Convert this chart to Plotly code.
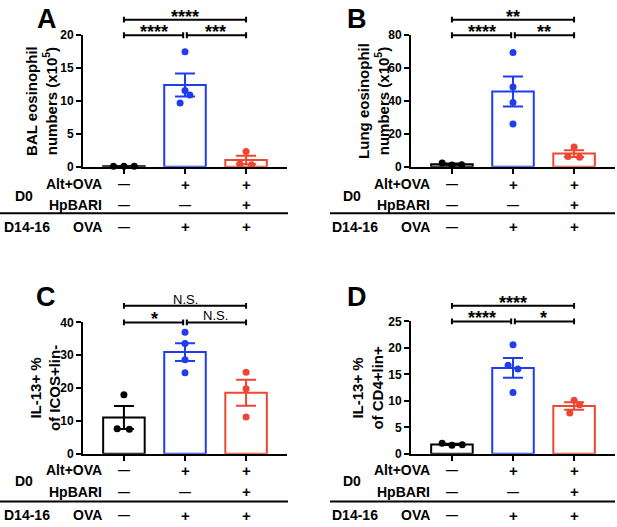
import numpy as np
import plotly.graph_objects as go

W, H = 617, 527
FONT = "Liberation Sans, Arial, sans-serif"

# group order: control, Alt+OVA, Alt+OVA+HpBARI
group_colors = ["#000000", "#1f3cf0", "#ee4631"]

# BAL eosinophils (x10^5)
bal_ctrl = [0.05, 0.05, 0.05]
bal_alt = [17.5, 11.6, 10.9, 9.7]
bal_hp = [2.3, 0.45, 0.3]

# Lung eosinophils (x10^5)
lung_ctrl = [2.2, 1.0, 1.2]
lung_alt = [69.5, 48.5, 39.0, 26.0]
lung_hp = [12.0, 6.1, 5.7]

# IL-13+ % of ICOS+lin-
icos_ctrl = [18.0, 7.6, 7.5]
icos_alt = [37.0, 33.6, 28.6, 24.7]
icos_hp = [24.8, 19.8, 11.2]

# IL-13+ % of CD4+lin+
cd4_ctrl = [2.0, 1.6, 1.7]
cd4_alt = [20.6, 16.7, 16.0, 11.6]
cd4_hp = [10.1, 9.25, 7.7]

# significance: (ctrl vs HpBARI, ctrl vs Alt, Alt vs HpBARI)
sig_bal = ["****", "****", "***"]
sig_lung = ["**", "****", "**"]
sig_icos = ["N.S.", "*", "N.S."]
sig_cd4 = ["****", "****", "*"]

# treatment table below the axes
alt_ova_row = ["—", "+", "+"]
hpbari_row = ["—", "—", "+"]
ova_row = ["—", "+", "+"]


def px(x):
    return x / W


def py(y):
    return 1 - y / H


panels = [
    dict(letter="A", title="BAL eosinophil<br>numbers (x10<sup>5</sup>)",
         data=[bal_ctrl, bal_alt, bal_hp], sig=sig_bal, ymax=20, dtick=5,
         left=83, zero=164, top=29, title_x=42, letter_xy=(47, 12),
         brackets=(13, 29), rows=(182, 203, 226, 194), sep=(0, 288, 212),
         jitter=[[-0.17, 0, 0.17], [0, 0, 0.08, -0.08], [0, -0.1, 0.09]]),
    dict(letter="B", title="Lung eosinophil<br>numbers (x10<sup>5</sup>)",
         data=[lung_ctrl, lung_alt, lung_hp], sig=sig_lung, ymax=80, dtick=20,
         left=411, zero=164, top=29, title_x=374, letter_xy=(357, 12),
         brackets=(13, 29), rows=(182, 203, 226, 194), sep=(330, 615, 212),
         jitter=[[-0.16, 0, 0.16], [0, 0, 0, 0], [0, -0.1, 0.09]]),
    dict(letter="C", title="IL-13+ %<br>of ICOS+lin-",
         data=[icos_ctrl, icos_alt, icos_hp], sig=sig_icos, ymax=40, dtick=10,
         left=83, zero=459, top=324, title_x=45, letter_xy=(46, 298),
         brackets=(307, 324), rows=(476, 498, 522, 487), sep=(0, 288, 508),
         jitter=[[0, -0.11, 0.09], [0, 0, 0, 0], [0, 0, 0]]),
    dict(letter="D", title="IL-13+ %<br>of CD4+lin+",
         data=[cd4_ctrl, cd4_alt, cd4_hp], sig=sig_cd4, ymax=25, dtick=5,
         left=411, zero=459, top=323, title_x=368, letter_xy=(357, 298),
         brackets=(307, 323), rows=(476, 498, 522, 487), sep=(330, 615, 508),
         jitter=[[-0.16, 0, 0.17], [0, -0.08, 0.08, 0], [0, 0.09, -0.07]]),
]

fig = go.Figure()
shapes, annotations = [], []
layout = {}

for n, p in enumerate(panels, start=1):
    xa = "x" if n == 1 else f"x{n}"
    ya = "y" if n == 1 else f"y{n}"
    xkey = "xaxis" if n == 1 else f"xaxis{n}"
    ykey = "yaxis" if n == 1 else f"yaxis{n}"

    # bars with SEM
    for g, (vals, col, jit) in enumerate(zip(p["data"], group_colors, p["jitter"])):
        arr = np.array(vals)
        mean = arr.mean()
        sem = arr.std(ddof=1) / np.sqrt(len(arr))
        fig.add_trace(go.Bar(
            x=[g], y=[mean], width=0.68, xaxis=xa, yaxis=ya,
            marker=dict(color="white", line=dict(color=col, width=2)),
            error_y=dict(type="data", array=[sem], color=col, thickness=2, width=10),
            showlegend=False, hoverinfo="skip",
        ))
        fig.add_trace(go.Scatter(
            x=[g + j for j in jit], y=vals, mode="markers", xaxis=xa, yaxis=ya,
            marker=dict(size=7, color=col), cliponaxis=False,
            showlegend=False, hoverinfo="skip",
        ))

    right = p["left"] + 204
    layout[xkey] = dict(
        domain=[px(p["left"]), px(right)], range=[-0.67, 2.67], anchor=ya,
        tickvals=[0, 1, 2], showticklabels=False, ticks="outside", ticklen=5,
        tickwidth=2, tickcolor="black", showline=True, linewidth=2, linecolor="black",
        showgrid=False, zeroline=False, fixedrange=True,
    )
    layout[ykey] = dict(
        domain=[py(p["zero"]), py(p["top"])], range=[0, p["ymax"]], anchor=xa,
        dtick=p["dtick"], tick0=0, ticks="outside", ticklen=5, tickwidth=2,
        tickcolor="black", showline=True, linewidth=2, linecolor="black",
        showgrid=False, zeroline=False, fixedrange=True,
        tickfont=dict(family=FONT, size=12, color="black", weight="bold"),
    )

    # y title
    annotations.append(dict(
        text=p["title"], xref="paper", yref=ya, x=px(p["title_x"]), y=p["ymax"] / 2,
        textangle=-90, showarrow=False, xanchor="center", yanchor="middle",
        font=dict(family=FONT, size=15, color="black", weight="bold"),
    ))
    # panel letter
    annotations.append(dict(
        text=p["letter"], xref="paper", yref="paper",
        x=px(p["letter_xy"][0]), y=py(p["letter_xy"][1]),
        showarrow=False, xanchor="center", yanchor="middle",
        font=dict(family=FONT, size=27, color="black", weight="bold"),
    ))

    # significance brackets
    y_top, y_low = p["brackets"]
    tk = 3
    for (x0, x1, yy) in [(0, 2, y_top), (0, 0.97, y_low), (1.03, 2, y_low)]:
        yc, ya0, ya1 = py(yy), py(yy - tk), py(yy + tk)
        shapes.append(dict(
            type="path", xref=xa, yref="paper",
            path=f"M {x0},{ya0} L {x0},{ya1} M {x0},{yc} L {x1},{yc} M {x1},{ya0} L {x1},{ya1}",
            line=dict(color="black", width=2),
        ))
    for label, xm, yy in zip(p["sig"], [1, 0.5, 1.5], [y_top, y_low, y_low]):
        is_star = label.startswith("*")
        annotations.append(dict(
            text=label, xref=xa, yref="paper", x=xm, y=py(yy),
            showarrow=False, xanchor="center", yanchor="bottom",
            yshift=-9 if is_star else -3,
            font=dict(family=FONT, size=18 if is_star else 13, color="black",
                      weight="bold" if is_star else "normal"),
        ))

    # treatment table
    off = p["left"] - 83
    r_alt, r_hp, r_ova, r_d0 = p["rows"]
    bold = dict(family=FONT, size=14, color="black", weight="bold")
    for txt, yy in [("Alt+OVA", r_alt), ("HpBARI", r_hp), ("OVA", r_ova)]:
        annotations.append(dict(text=txt, xref="paper", yref="paper", x=px(104 + off),
                                y=py(yy), xanchor="right", yanchor="middle",
                                showarrow=False, font=bold))
    annotations.append(dict(text="D0", xref="paper", yref="paper", x=px(24 + off),
                            y=py(r_d0), xanchor="center", yanchor="middle",
                            showarrow=False, font=bold))
    annotations.append(dict(text="D14-16", xref="paper", yref="paper", x=px(2 + off),
                            y=py(r_ova), xanchor="left", yanchor="middle",
                            showarrow=False, font=bold))
    for row, yy in [(alt_ova_row, r_alt), (hpbari_row, r_hp), (ova_row, r_ova)]:
        for g, s in enumerate(row):
            annotations.append(dict(
                text=s, xref=xa, yref="paper", x=g, y=py(yy),
                xanchor="center", yanchor="middle", showarrow=False,
                font=dict(family=FONT, size=15 if s == "+" else 12, color="black", weight="bold"),
            ))
    sx0, sx1, sy = p["sep"]
    shapes.append(dict(type="line", xref="paper", yref="paper",
                       x0=px(sx0), x1=px(sx1), y0=py(sy), y1=py(sy),
                       line=dict(color="black", width=2)))

fig.update_layout(
    width=W, height=H, margin=dict(l=0, r=0, t=0, b=0),
    paper_bgcolor="white", plot_bgcolor="white",
    barmode="overlay", showlegend=False,
    shapes=shapes, annotations=annotations,
    font=dict(family=FONT, color="black"),
    **layout,
)

# drop the default page margin so the figure sits at the window's corner
fig.write_html("out.html", config={"displayModeBar": False},
               post_script="document.body.style.margin='0';")
